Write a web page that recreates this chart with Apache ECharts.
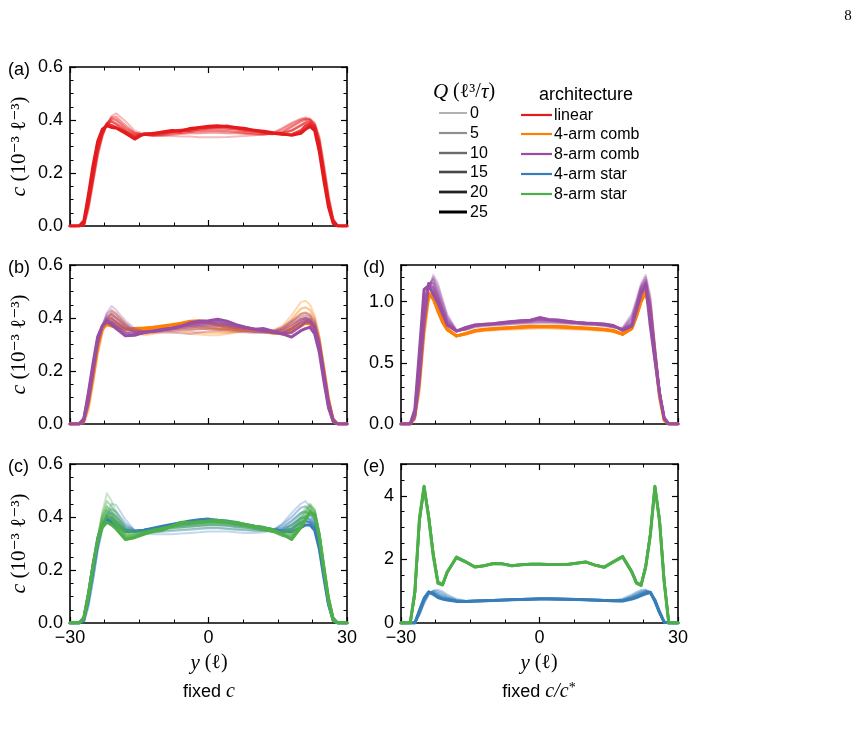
<!DOCTYPE html>
<html><head><meta charset="utf-8">
<script src="https://cdn.jsdelivr.net/npm/echarts@6/dist/echarts.min.js"></script>
<style>html,body{margin:0;padding:0;background:#fff}#c{width:861px;height:745px}</style>
</head><body><div id="c"></div>
<script>
// ---------- data ----------
const X = [-30,-28,-27,-26,-25,-24,-23,-22,-21,-20,-18,-16,-14,-12,-10,-8,-6,-4,-2,0,2,4,6,8,10,12,14,16,18,20,21,22,23,24,25,26,27,28,30];
const Q_LIST = [0,5,10,15,20,25];
const ARCH_NAMES = ['linear','4-arm comb','8-arm comb','4-arm star','8-arm star'];
const X_TICKS = [-30,0,30];
const Y_TICKS_FIXED_C = [0.0,0.2,0.4,0.6];
const Y_TICKS_D = [0.0,0.5,1.0];
const Y_TICKS_E = [0,2,4];

// (a) linear, fixed c — one array per Q (0,5,10,15,20,25)
const a_linear = [
[0,0,0,0.06,0.16,0.26,0.335,0.385,0.415,0.425, 0.395,0.36,0.347,0.342,0.34,0.34,0.338,0.338,0.335,0.335,0.335,0.336,0.338,0.34,0.342,0.345,0.352,0.37,0.39, 0.405,0.41,0.405,0.39,0.34,0.24,0.12,0.03,0, 0],
[0,0,0,0.07,0.17,0.27,0.34,0.385,0.41,0.412, 0.38,0.352,0.345,0.34,0.342,0.345,0.348,0.35,0.35,0.352,0.352,0.35,0.35,0.348,0.346,0.345,0.35,0.365,0.385, 0.402,0.405,0.402,0.385,0.33,0.22,0.11,0.025,0, 0],
[0,0,0.005,0.08,0.18,0.28,0.345,0.385,0.405,0.4, 0.37,0.35,0.345,0.342,0.345,0.35,0.352,0.355,0.358,0.36,0.36,0.358,0.355,0.352,0.35,0.348,0.347,0.355,0.375, 0.395,0.402,0.4,0.38,0.32,0.21,0.1,0.02,0, 0],
[0,0,0.01,0.09,0.19,0.29,0.35,0.385,0.395,0.385, 0.36,0.342,0.345,0.345,0.35,0.355,0.36,0.36,0.365,0.368,0.37,0.368,0.365,0.36,0.358,0.352,0.348,0.35,0.36, 0.38,0.39,0.392,0.375,0.31,0.2,0.09,0.02,0, 0],
[0,0,0.01,0.1,0.21,0.31,0.36,0.385,0.38,0.372, 0.355,0.335,0.345,0.35,0.352,0.358,0.362,0.365,0.37,0.372,0.375,0.378,0.37,0.365,0.362,0.355,0.35,0.345,0.345, 0.36,0.378,0.385,0.37,0.3,0.19,0.08,0.015,0, 0],
[0,0,0.02,0.12,0.23,0.32,0.365,0.378,0.372,0.37, 0.35,0.328,0.348,0.348,0.355,0.36,0.358,0.368,0.372,0.376,0.378,0.375,0.372,0.368,0.36,0.358,0.352,0.348,0.342, 0.35,0.365,0.376,0.36,0.28,0.17,0.07,0.01,0, 0]
];
// (b) 4-arm comb, fixed c
const b_comb4 = [
[0,0,0,0.05,0.15,0.26,0.34,0.39,0.425,0.42, 0.38,0.345,0.335,0.34,0.345,0.345,0.345,0.34,0.338,0.335,0.335,0.34,0.345,0.348,0.35,0.352,0.355,0.37,0.41, 0.46,0.465,0.45,0.41,0.33,0.22,0.1,0.02,0, 0],
[0,0,0.005,0.06,0.16,0.27,0.35,0.395,0.42,0.41, 0.375,0.345,0.34,0.345,0.35,0.35,0.35,0.348,0.345,0.345,0.345,0.345,0.348,0.35,0.352,0.35,0.352,0.365,0.395, 0.435,0.44,0.43,0.4,0.33,0.22,0.1,0.02,0, 0],
[0,0,0.01,0.07,0.17,0.28,0.355,0.395,0.41,0.4, 0.37,0.348,0.345,0.35,0.355,0.358,0.36,0.36,0.36,0.358,0.355,0.355,0.352,0.352,0.35,0.348,0.348,0.36,0.385, 0.415,0.42,0.41,0.385,0.32,0.21,0.1,0.02,0, 0],
[0,0,0.01,0.08,0.18,0.29,0.36,0.39,0.395,0.385, 0.36,0.35,0.352,0.355,0.36,0.365,0.368,0.37,0.368,0.365,0.36,0.358,0.355,0.352,0.35,0.348,0.345,0.352,0.37, 0.395,0.4,0.395,0.37,0.31,0.2,0.09,0.02,0, 0],
[0,0,0.015,0.09,0.2,0.3,0.36,0.385,0.385,0.375, 0.355,0.355,0.358,0.36,0.365,0.372,0.378,0.38,0.382,0.38,0.372,0.365,0.36,0.355,0.35,0.348,0.342,0.345,0.36, 0.38,0.388,0.385,0.36,0.3,0.19,0.08,0.015,0, 0],
[0,0,0.02,0.1,0.21,0.31,0.36,0.375,0.37,0.365, 0.358,0.36,0.362,0.365,0.37,0.375,0.38,0.388,0.39,0.385,0.375,0.37,0.362,0.358,0.355,0.35,0.345,0.34,0.35, 0.37,0.38,0.378,0.35,0.29,0.18,0.07,0.01,0, 0]
];
// (b) 8-arm comb, fixed c
const b_comb8 = [
[0,0,0.005,0.07,0.18,0.29,0.37,0.42,0.445,0.43, 0.39,0.36,0.35,0.345,0.345,0.345,0.342,0.34,0.345,0.35,0.352,0.35,0.348,0.345,0.342,0.345,0.35,0.365,0.39, 0.415,0.42,0.415,0.39,0.32,0.21,0.1,0.02,0, 0],
[0,0,0.01,0.08,0.19,0.3,0.37,0.415,0.43,0.415, 0.38,0.355,0.348,0.348,0.35,0.352,0.355,0.355,0.358,0.36,0.36,0.358,0.355,0.35,0.348,0.345,0.348,0.36,0.385, 0.405,0.41,0.405,0.38,0.31,0.2,0.09,0.02,0, 0],
[0,0,0.01,0.09,0.2,0.31,0.37,0.405,0.415,0.4, 0.37,0.35,0.348,0.35,0.355,0.358,0.362,0.365,0.368,0.37,0.37,0.368,0.362,0.358,0.355,0.35,0.348,0.355,0.375, 0.395,0.4,0.395,0.37,0.3,0.19,0.08,0.015,0, 0],
[0,0,0.015,0.1,0.21,0.32,0.37,0.395,0.4,0.385, 0.36,0.345,0.348,0.352,0.358,0.362,0.368,0.372,0.375,0.378,0.378,0.375,0.368,0.362,0.358,0.352,0.345,0.345,0.36, 0.385,0.395,0.39,0.365,0.3,0.19,0.08,0.015,0, 0],
[0,0,0.02,0.11,0.22,0.32,0.37,0.39,0.385,0.37, 0.345,0.338,0.345,0.35,0.356,0.362,0.37,0.378,0.382,0.385,0.385,0.38,0.372,0.365,0.358,0.352,0.345,0.34,0.345, 0.37,0.385,0.385,0.36,0.29,0.18,0.07,0.01,0, 0],
[0,0,0.02,0.12,0.23,0.33,0.37,0.385,0.375,0.36, 0.333,0.335,0.345,0.35,0.355,0.36,0.368,0.382,0.388,0.39,0.395,0.388,0.375,0.365,0.358,0.36,0.35,0.34,0.328, 0.352,0.36,0.365,0.34,0.27,0.16,0.06,0.01,0, 0]
];
// (c) 4-arm star, fixed c
const c_star4 = [
[0,0,0,0.06,0.16,0.27,0.35,0.41,0.45,0.445, 0.39,0.35,0.34,0.335,0.335,0.335,0.338,0.34,0.342,0.345,0.345,0.345,0.342,0.34,0.34,0.342,0.35,0.375,0.415, 0.45,0.46,0.44,0.4,0.32,0.21,0.1,0.02,0, 0],
[0,0,0.005,0.07,0.17,0.28,0.36,0.41,0.43,0.42, 0.375,0.35,0.345,0.342,0.345,0.348,0.35,0.352,0.355,0.358,0.358,0.355,0.352,0.35,0.348,0.348,0.352,0.37,0.4, 0.435,0.44,0.425,0.39,0.31,0.2,0.09,0.02,0, 0],
[0,0,0.01,0.08,0.18,0.29,0.365,0.405,0.415,0.4, 0.365,0.348,0.348,0.35,0.355,0.36,0.362,0.365,0.368,0.37,0.37,0.368,0.362,0.36,0.355,0.352,0.35,0.36,0.385, 0.415,0.42,0.41,0.38,0.3,0.19,0.08,0.015,0, 0],
[0,0,0.01,0.09,0.2,0.3,0.37,0.4,0.4,0.385, 0.355,0.345,0.35,0.355,0.36,0.365,0.372,0.375,0.378,0.38,0.38,0.378,0.372,0.368,0.362,0.355,0.35,0.352,0.37, 0.395,0.4,0.39,0.37,0.3,0.19,0.08,0.015,0, 0],
[0,0,0.015,0.1,0.21,0.31,0.37,0.392,0.39,0.375, 0.35,0.345,0.35,0.356,0.362,0.37,0.378,0.382,0.385,0.388,0.385,0.382,0.375,0.37,0.365,0.358,0.352,0.348,0.355, 0.38,0.385,0.38,0.36,0.29,0.18,0.07,0.01,0, 0],
[0,0,0.02,0.11,0.22,0.32,0.37,0.39,0.38,0.365, 0.345,0.345,0.35,0.358,0.365,0.372,0.378,0.385,0.39,0.392,0.388,0.385,0.378,0.372,0.365,0.36,0.352,0.345,0.345, 0.36,0.37,0.37,0.35,0.28,0.17,0.07,0.01,0, 0]
];
// (c) 8-arm star, fixed c
const c_star8 = [
[0,0,0.01,0.08,0.2,0.32,0.42,0.49,0.46,0.42, 0.36,0.345,0.345,0.348,0.35,0.352,0.355,0.358,0.36,0.36,0.36,0.358,0.355,0.352,0.35,0.348,0.345,0.348,0.37, 0.41,0.435,0.45,0.43,0.34,0.22,0.1,0.02,0, 0],
[0,0,0.015,0.09,0.21,0.32,0.41,0.46,0.44,0.41, 0.355,0.34,0.345,0.35,0.355,0.358,0.362,0.365,0.368,0.37,0.37,0.368,0.365,0.36,0.355,0.35,0.345,0.342,0.36, 0.4,0.425,0.445,0.425,0.34,0.22,0.1,0.02,0, 0],
[0,0,0.015,0.1,0.21,0.32,0.4,0.44,0.42,0.395, 0.345,0.335,0.345,0.352,0.358,0.362,0.368,0.372,0.375,0.378,0.378,0.375,0.37,0.365,0.36,0.352,0.345,0.338,0.35, 0.39,0.415,0.44,0.42,0.34,0.22,0.1,0.02,0, 0],
[0,0,0.02,0.1,0.21,0.31,0.385,0.425,0.405,0.38, 0.335,0.33,0.34,0.35,0.358,0.365,0.372,0.375,0.38,0.382,0.38,0.378,0.372,0.368,0.36,0.352,0.345,0.335,0.335, 0.375,0.4,0.425,0.41,0.33,0.21,0.09,0.02,0, 0],
[0,0,0.02,0.11,0.22,0.31,0.37,0.405,0.39,0.37, 0.325,0.325,0.338,0.348,0.355,0.365,0.375,0.378,0.382,0.385,0.385,0.382,0.378,0.37,0.362,0.355,0.345,0.33,0.325, 0.365,0.39,0.42,0.4,0.32,0.2,0.09,0.015,0, 0],
[0,0,0.02,0.11,0.22,0.31,0.36,0.38,0.37,0.355, 0.315,0.322,0.335,0.345,0.35,0.365,0.38,0.378,0.382,0.385,0.388,0.382,0.38,0.372,0.365,0.36,0.352,0.335,0.315, 0.36,0.39,0.415,0.41,0.33,0.2,0.08,0.01,0, 0]
];
// (d) 4-arm comb, fixed c/c*
const d_comb4 = [
[0,0,0.03,0.25,0.68,1.0,1.1,1.02,0.9,0.8, 0.72,0.73,0.75,0.76,0.765,0.77,0.772,0.775,0.778,0.78,0.78,0.778,0.775,0.772,0.77,0.765,0.76,0.75,0.73, 0.8,0.9,1.02,1.1,1.0,0.65,0.27,0.04,0, 0],
[0,0,0.04,0.28,0.72,1.02,1.09,1.0,0.88,0.79, 0.718,0.732,0.755,0.765,0.77,0.775,0.778,0.782,0.785,0.786,0.786,0.784,0.78,0.778,0.775,0.77,0.765,0.755,0.73, 0.79,0.89,1.01,1.1,0.97,0.62,0.26,0.04,0, 0],
[0,0,0.05,0.32,0.76,1.04,1.07,0.97,0.86,0.78, 0.718,0.735,0.758,0.768,0.774,0.78,0.784,0.788,0.79,0.792,0.792,0.79,0.786,0.782,0.778,0.774,0.768,0.758,0.732, 0.785,0.885,1.0,1.09,0.95,0.6,0.25,0.04,0, 0],
[0,0,0.06,0.35,0.8,1.05,1.05,0.95,0.85,0.775, 0.72,0.738,0.76,0.77,0.776,0.782,0.786,0.79,0.795,0.796,0.796,0.794,0.79,0.786,0.782,0.777,0.77,0.76,0.733, 0.78,0.88,1.0,1.085,0.93,0.58,0.24,0.035,0, 0],
[0,0,0.07,0.38,0.83,1.06,1.03,0.93,0.84,0.772, 0.72,0.74,0.762,0.772,0.778,0.784,0.788,0.793,0.798,0.798,0.798,0.796,0.792,0.788,0.784,0.778,0.772,0.762,0.734, 0.78,0.88,1.0,1.08,0.91,0.56,0.23,0.03,0, 0],
[0,0,0.08,0.4,0.85,1.07,1.02,0.92,0.83,0.77, 0.72,0.74,0.765,0.775,0.78,0.785,0.79,0.795,0.8,0.8,0.8,0.798,0.795,0.79,0.785,0.78,0.775,0.765,0.735, 0.78,0.88,1.0,1.08,0.9,0.55,0.22,0.03,0, 0]
];
// (d) 8-arm comb, fixed c/c*
const d_comb8 = [
[0,0,0.04,0.3,0.75,1.1,1.22,1.15,1.02,0.9, 0.77,0.77,0.79,0.8,0.805,0.81,0.815,0.82,0.82,0.825,0.825,0.82,0.82,0.815,0.81,0.81,0.8,0.79,0.79, 0.9,1.02,1.15,1.22,1.05,0.65,0.28,0.04,0, 0],
[0,0,0.05,0.33,0.8,1.12,1.2,1.12,1.0,0.88, 0.765,0.772,0.795,0.805,0.81,0.815,0.82,0.825,0.828,0.832,0.832,0.828,0.825,0.82,0.815,0.812,0.805,0.79,0.78, 0.88,1.0,1.13,1.2,1.02,0.62,0.27,0.04,0, 0],
[0,0,0.07,0.37,0.85,1.14,1.18,1.08,0.97,0.86, 0.76,0.775,0.8,0.81,0.815,0.82,0.826,0.832,0.836,0.842,0.84,0.835,0.83,0.825,0.82,0.815,0.81,0.795,0.775, 0.86,0.98,1.12,1.18,0.98,0.6,0.26,0.04,0, 0],
[0,0,0.08,0.41,0.9,1.15,1.15,1.05,0.94,0.84, 0.76,0.778,0.805,0.812,0.818,0.825,0.832,0.838,0.842,0.852,0.848,0.842,0.835,0.828,0.822,0.818,0.812,0.8,0.77, 0.83,0.96,1.1,1.16,0.92,0.57,0.26,0.05,0, 0],
[0,0,0.1,0.5,0.98,1.15,1.11,1.02,0.92,0.82, 0.758,0.782,0.808,0.815,0.82,0.828,0.835,0.842,0.846,0.862,0.852,0.846,0.838,0.83,0.824,0.82,0.815,0.803,0.768, 0.81,0.94,1.08,1.14,0.86,0.55,0.25,0.05,0, 0],
[0,0,0.12,0.6,1.1,1.13,1.06,0.99,0.9,0.81, 0.76,0.79,0.81,0.815,0.82,0.83,0.838,0.845,0.848,0.87,0.855,0.85,0.84,0.83,0.825,0.822,0.818,0.805,0.765, 0.8,0.93,1.06,1.14,0.8,0.52,0.25,0.05,0, 0]
];
// (e) 4-arm star, fixed c/c*
const e_star4 = [
[0,0,0,0.25,0.6,0.88,1.02,1.05,1.0,0.9, 0.76,0.7,0.69,0.7,0.71,0.72,0.73,0.74,0.745,0.75,0.75,0.745,0.74,0.735,0.725,0.715,0.705,0.71,0.77, 0.9,0.98,1.04,1.05,0.95,0.62,0.28,0.02,0, 0],
[0,0,0,0.28,0.65,0.92,1.01,1.0,0.94,0.85, 0.73,0.69,0.69,0.7,0.71,0.72,0.73,0.74,0.748,0.752,0.752,0.748,0.742,0.735,0.726,0.716,0.706,0.705,0.74, 0.86,0.94,1.0,1.03,0.96,0.65,0.3,0.02,0, 0],
[0,0,0,0.31,0.69,0.94,0.98,0.93,0.87,0.8, 0.71,0.685,0.69,0.7,0.71,0.72,0.73,0.742,0.75,0.755,0.755,0.75,0.745,0.738,0.728,0.718,0.708,0.7,0.72, 0.82,0.89,0.96,1.0,0.97,0.68,0.32,0.03,0, 0],
[0,0,0,0.34,0.72,0.96,0.95,0.87,0.8,0.76, 0.69,0.68,0.69,0.7,0.71,0.722,0.732,0.742,0.75,0.757,0.757,0.752,0.746,0.74,0.73,0.72,0.71,0.7,0.705, 0.79,0.85,0.92,0.97,0.97,0.7,0.33,0.03,0, 0],
[0,0,0,0.37,0.75,0.97,0.92,0.83,0.77,0.735, 0.685,0.68,0.69,0.7,0.712,0.722,0.733,0.744,0.752,0.758,0.758,0.754,0.748,0.74,0.73,0.72,0.71,0.7,0.695, 0.77,0.82,0.88,0.94,0.97,0.71,0.34,0.03,0, 0],
[0,0,0,0.4,0.78,0.98,0.9,0.8,0.75,0.72, 0.68,0.68,0.69,0.7,0.71,0.72,0.73,0.74,0.75,0.76,0.76,0.755,0.75,0.74,0.73,0.72,0.71,0.7,0.69, 0.75,0.8,0.86,0.92,0.96,0.72,0.35,0.03,0, 0]
];
// (e) 8-arm star, fixed c/c*
const e_star8 = [
[0,0,0.8,3.1,4.2,3.45,2.25,1.35,1.22,1.55, 2.1,1.95,1.78,1.8,1.86,1.86,1.82,1.84,1.85,1.86,1.85,1.84,1.85,1.88,1.92,1.83,1.78,1.95,2.12, 1.65,1.3,1.22,1.85,2.85,4.2,3.35,1.4,0, 0],
[0,0,0.85,3.15,4.22,3.42,2.22,1.32,1.21,1.57, 2.09,1.94,1.77,1.8,1.86,1.86,1.81,1.84,1.85,1.86,1.85,1.84,1.85,1.88,1.92,1.83,1.77,1.94,2.11, 1.64,1.29,1.21,1.82,2.82,4.22,3.3,1.38,0, 0],
[0,0,0.9,3.2,4.25,3.38,2.18,1.3,1.2,1.58, 2.08,1.93,1.77,1.8,1.87,1.86,1.81,1.83,1.85,1.85,1.84,1.84,1.84,1.88,1.92,1.82,1.76,1.93,2.1, 1.62,1.28,1.2,1.8,2.8,4.25,3.27,1.35,0, 0],
[0,0,0.93,3.23,4.27,3.35,2.15,1.28,1.2,1.59, 2.07,1.93,1.76,1.8,1.87,1.86,1.8,1.83,1.85,1.85,1.84,1.84,1.84,1.88,1.92,1.82,1.76,1.93,2.09, 1.61,1.27,1.19,1.78,2.78,4.27,3.24,1.33,0, 0],
[0,0,0.97,3.27,4.29,3.32,2.12,1.26,1.2,1.6, 2.06,1.92,1.76,1.8,1.87,1.86,1.8,1.83,1.85,1.85,1.84,1.84,1.84,1.88,1.92,1.82,1.75,1.92,2.08, 1.6,1.26,1.18,1.76,2.76,4.29,3.22,1.31,0, 0],
[0,0,1.0,3.3,4.3,3.3,2.1,1.25,1.2,1.6, 2.05,1.92,1.76,1.8,1.87,1.86,1.8,1.83,1.85,1.85,1.84,1.84,1.84,1.88,1.92,1.82,1.75,1.92,2.08, 1.6,1.25,1.18,1.75,2.75,4.3,3.2,1.3,0, 0]
];

// ---------- style ----------
const COLORS = {linear:'#e41a1c', comb4:'#ff7f00', comb8:'#984ea3', star4:'#377eb8', star8:'#4daf4a'};
const ALPHA = [0.3,0.44,0.58,0.72,0.86,1.0];
const WIDTH = [2.0,2.2,2.4,2.6,2.8,3.0];
const SANS = '"Liberation Sans", Arial, sans-serif';
const SERIF = '"Liberation Serif", "DejaVu Serif", serif';

const GRIDS = [
  {left:70, top:67, width:277, height:159},
  {left:70, top:265, width:277, height:159},
  {left:70, top:464, width:277, height:159},
  {left:401, top:265, width:277, height:159},
  {left:401, top:464, width:277, height:159}
];
const PANELS = [
  {ymax:0.6, major:0.2, minor:0.05, xlab:false, dec:1},
  {ymax:0.6, major:0.2, minor:0.05, xlab:false, dec:1},
  {ymax:0.6, major:0.2, minor:0.05, xlab:true, dec:1},
  {ymax:1.3, major:0.5, minor:0.1, xlab:false, dec:1},
  {ymax:5, major:2, minor:0.5, xlab:true, dec:0}
];

const xAxes = [], yAxes = [], series = [];
const FRAME = {color:'#000', width:1.6};
const MAJ_T = {show:true, inside:true, length:6, lineStyle:{color:'#000', width:1.2}};
const MIN_T = {show:true, inside:true, length:3.5, lineStyle:{color:'#000', width:1}};
const NO_LINE = {show:false, onZero:false};
const axisIdx = [];
PANELS.forEach((p, gi) => {
  const xi = xAxes.length, yi = yAxes.length;
  const xc = {gridIndex:gi, type:'value', min:-30, max:30, interval:30, silent:true,
    splitLine:{show:false}, minorSplitLine:{show:false},
    axisLine:{show:true, onZero:false, lineStyle:FRAME}, axisTick:MAJ_T,
    minorTick:{show:true, splitNumber:4, length:3.5, lineStyle:{color:'#000', width:1}}};
  xAxes.push(Object.assign({}, xc, {position:'bottom', axisLabel:{show:p.xlab, margin:6, color:'#000', fontSize:18, fontFamily:SANS,
    formatter: v => X_TICKS.includes(v) ? (v < 0 ? '\u2212' + (-v) : String(v)) : ''}}));
  xAxes.push(Object.assign({}, xc, {position:'top', axisLabel:{show:false}}));
  const yc = {gridIndex:gi, type:'value', min:0, max:p.ymax, silent:true, splitLine:{show:false}, minorSplitLine:{show:false}};
  const ticks = gi < 3 ? Y_TICKS_FIXED_C : (gi === 3 ? Y_TICKS_D : Y_TICKS_E);
  yAxes.push(Object.assign({}, yc, {position:'left', interval:p.major, axisLine:{show:true, onZero:false, lineStyle:FRAME}, axisTick:MAJ_T,
    axisLabel:{show:true, margin:7, color:'#000', fontSize:18, fontFamily:SANS,
      formatter: v => ticks.some(t => Math.abs(t - v) < 1e-6) ? v.toFixed(p.dec) : ''}}));
  yAxes.push(Object.assign({}, yc, {position:'left', interval:p.minor, axisLine:NO_LINE, axisTick:MIN_T, axisLabel:{show:false}}));
  yAxes.push(Object.assign({}, yc, {position:'right', interval:p.major, axisLine:{show:true, onZero:false, lineStyle:FRAME}, axisTick:MAJ_T, axisLabel:{show:false}}));
  yAxes.push(Object.assign({}, yc, {position:'right', interval:p.minor, axisLine:NO_LINE, axisTick:MIN_T, axisLabel:{show:false}}));
  axisIdx.push([xi, yi]);
});

function addGroup(gi, arr, color, name) {
  arr.forEach((vals, k) => {
    series.push({type:'line', name: name + ' Q=' + Q_LIST[k], xAxisIndex: axisIdx[gi][0], yAxisIndex: axisIdx[gi][1],
      data: X.map((x, i) => [x, vals[i]]), symbol:'none', showSymbol:false, silent:true, animation:false,
      lineStyle:{color:color, width:WIDTH[k], opacity:ALPHA[k], join:'round', cap:'round'}, itemStyle:{color:color}});
  });
}
addGroup(0, a_linear, COLORS.linear, ARCH_NAMES[0]);
addGroup(1, b_comb4, COLORS.comb4, ARCH_NAMES[1]);
addGroup(1, b_comb8, COLORS.comb8, ARCH_NAMES[2]);
addGroup(2, c_star4, COLORS.star4, ARCH_NAMES[3]);
addGroup(2, c_star8, COLORS.star8, ARCH_NAMES[4]);
addGroup(3, d_comb4, COLORS.comb4, ARCH_NAMES[1]);
addGroup(3, d_comb8, COLORS.comb8, ARCH_NAMES[2]);
addGroup(4, e_star4, COLORS.star4, ARCH_NAMES[3]);
addGroup(4, e_star8, COLORS.star8, ARCH_NAMES[4]);

// ---------- text & legend ----------
const G = [];
function text(x, y, str, size, family, opts) {
  const o = Object.assign({type:'text', x:x, y:y, silent:true, style:Object.assign({text:str, fill:'#000', fontSize:size, fontFamily:family,
    align:'left', verticalAlign:'middle', textAlign:'left', textVerticalAlign:'middle'}, (opts && opts.style) || {})}, opts && opts.rot ? {rotation:opts.rot} : {});
  G.push(o);
}
[['(a)',8,70],['(b)',8,268],['(c)',8,467],['(d)',363,268],['(e)',363,467]].forEach(l => text(l[1], l[2], l[0], 18, SANS));
[146.5, 344.5, 543.5].forEach(cy => text(19, cy, '{i|c} (10\u207B\u00B3 \u2113\u207B\u00B3)', 21, SERIF,
  {rot:Math.PI/2, style:{align:'center', textAlign:'center', rich:{i:{fontStyle:'italic', fontFamily:SERIF, fontSize:22}}}}));
[209, 539].forEach(cx => text(cx, 663, '{i|y} (\u2113)', 20, SERIF,
  {style:{align:'center', textAlign:'center', rich:{i:{fontStyle:'italic', fontFamily:SERIF, fontSize:21}}}}));
text(209, 692, '{s|fixed }{i|c}', 18, SANS, {style:{align:'center', textAlign:'center',
  rich:{s:{fontFamily:SANS, fontSize:18}, i:{fontStyle:'italic', fontFamily:SERIF, fontSize:20}}}});
text(539, 692, '{s|fixed }{i|c/c}{sup|*}', 18, SANS, {style:{align:'center', textAlign:'center',
  rich:{s:{fontFamily:SANS, fontSize:18}, i:{fontStyle:'italic', fontFamily:SERIF, fontSize:20}, sup:{fontFamily:SERIF, fontSize:14, verticalAlign:'top', padding:[0,0,8,0]}}}});
text(848, 16, '8', 15, SERIF, {style:{align:'center', textAlign:'center'}});

// Q legend
text(464, 92, '{i|Q} (\u2113\u00B3/{i|\u03C4})', 20, SERIF, {style:{align:'center', textAlign:'center',
  rich:{i:{fontStyle:'italic', fontFamily:SERIF, fontSize:21}}}});
const QY = [113, 133, 153, 172, 192, 212];
Q_LIST.forEach((q, k) => {
  G.push({type:'line', silent:true, shape:{x1:439, y1:QY[k], x2:467, y2:QY[k]}, style:{stroke:'rgba(0,0,0,' + ALPHA[k] + ')', lineWidth:WIDTH[k]}});
  text(470, QY[k] + 1, String(q), 16, SANS);
});
// architecture legend
text(539, 95, 'architecture', 18, SANS);
const AY = [115, 134, 154, 174, 194];
const ACOL = [COLORS.linear, COLORS.comb4, COLORS.comb8, COLORS.star4, COLORS.star8];
ARCH_NAMES.forEach((n, k) => {
  G.push({type:'line', silent:true, shape:{x1:521, y1:AY[k], x2:552, y2:AY[k]}, style:{stroke:ACOL[k], lineWidth:2.2}});
  text(554, AY[k] + 1, n, 16, SANS);
});

const chart = echarts.init(document.getElementById('c'), null, {renderer:'canvas', width:861, height:745});
chart.setOption({
  animation:false,
  backgroundColor:'#fff',
  grid: GRIDS.map(g => Object.assign({containLabel:false}, g)),
  xAxis: xAxes,
  yAxis: yAxes,
  series: series,
  graphic: {elements: G}
});
</script></body></html>
